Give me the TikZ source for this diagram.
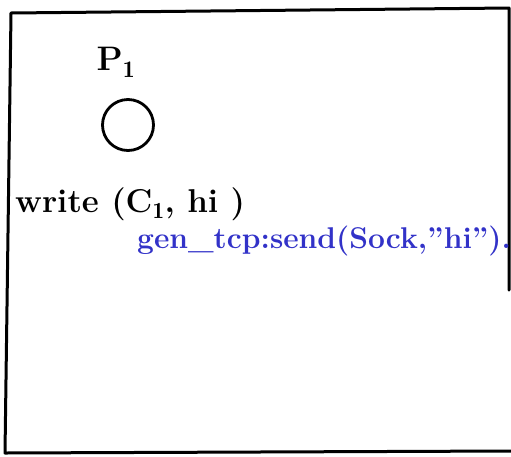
\documentclass[tikz,border=0pt]{standalone}
\usepackage{fontspec}
\begin{document}
\begin{tikzpicture}[x=1pt,y=-1pt,
  frame/.style={line width=3pt,line join=round,line cap=round},
  ink/.style={inner sep=0pt},
  blueink/.style={ink,text=myblue}]
\definecolor{myblue}{RGB}{50,50,200}
\useasboundingbox (0,0) rectangle (511,456);
\coordinate (tl) at (11,13);
\coordinate (tr) at (509,8);
\coordinate (rm) at (509,290);
\coordinate (bl) at (5,453);
\coordinate (br) at (511,451);
\draw[frame] (rm) -- (tr) -- (tl) -- (bl) -- (br);
\node[ink,font=\fontsize{34}{36}\selectfont\bfseries] (p1) at (116,62) {P$_{\mathbf 1}$};
\node[draw,circle,line width=2.8pt,minimum size=51pt,inner sep=0pt] (c1) at (128,125) {};
\node[ink,anchor=base west,font=\fontsize{33}{35}\selectfont\bfseries] (w) at (15,212) {write (C$_{\mathbf 1}$, hi )};
\node[blueink,anchor=base west,font=\fontsize{30}{32}\selectfont\bfseries] (g) at (137,248) {gen\_tcp:send(Sock,\char34 hi\char34).};
\end{tikzpicture}
\end{document}
